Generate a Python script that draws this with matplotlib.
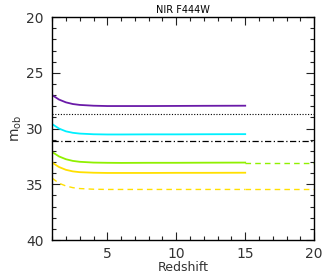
import numpy as np
import matplotlib.pyplot as plt
from matplotlib.ticker import MultipleLocator

# redshift grid
z = [1.0, 1.5, 2.0, 2.5, 3.0, 4.0, 5.0, 6.0, 8.0, 10.0, 12.0, 15.0]
z_ext = [15.0, 20.0]

# magnitudes
m_purple = [27.0, 27.4, 27.65, 27.8, 27.88, 27.95, 27.98, 27.98, 27.98, 27.97, 27.96, 27.95]
m_cyan = [29.6, 30.0, 30.25, 30.38, 30.45, 30.51, 30.53, 30.53, 30.52, 30.52, 30.51, 30.5]
m_green = [32.1, 32.5, 32.75, 32.9, 32.98, 33.05, 33.07, 33.08, 33.07, 33.07, 33.06, 33.05]
m_green_ext = [33.05, 33.05]
m_yellow = [33.05, 33.45, 33.7, 33.84, 33.91, 33.96, 33.98, 33.98, 33.98, 33.97, 33.97, 33.96]
m_yellow_d = [34.45, 34.9, 35.15, 35.3, 35.38, 35.44, 35.46, 35.46, 35.46, 35.46, 35.46, 35.46]
m_yellow_d_ext = [35.46, 35.46]

lim_dotted = 28.7
lim_dashdot = 31.15

fig = plt.figure(figsize=(3.3, 2.75), dpi=100)
ax = fig.add_axes([0.158, 0.127, 0.794, 0.811])

ax.plot(z, m_purple, color='#6a1aa8', lw=1.3)
ax.axhline(lim_dotted, color='black', ls=(0, (1, 1.5)), lw=0.8)
ax.plot(z, m_cyan, color='#00f0ff', lw=1.3)
ax.axhline(lim_dashdot, color='black', ls=(0, (5, 2, 1, 2)), lw=0.9)
ax.plot(z, m_green, color='#90f000', lw=1.3)
ax.plot(z_ext, m_green_ext, color='#90f000', lw=1.0, ls=(0, (4, 3)))
ax.plot(z, m_yellow, color='#ffe000', lw=1.3)
ax.plot(z, m_yellow_d, color='#ffe000', lw=1.0, ls=(0, (4, 3)))
ax.plot(z_ext, m_yellow_d_ext, color='#ffe000', lw=1.0, ls=(0, (4, 3)))

ax.set_xlim(1, 20)
ax.set_ylim(40, 20)
ax.xaxis.set_major_locator(MultipleLocator(5))
ax.xaxis.set_minor_locator(MultipleLocator(1))
ax.yaxis.set_major_locator(MultipleLocator(5))
ax.yaxis.set_minor_locator(MultipleLocator(1))
ax.tick_params(which='both', direction='in', top=True, right=True, labelsize=10,
               colors='#222222', labelcolor='#333333', width=0.8)
ax.tick_params(which='major', length=6, pad=6)
ax.tick_params(axis='x', which='major', pad=5)
ax.tick_params(which='minor', length=3)
for s in ax.spines.values():
    s.set_linewidth(1.0)

ax.set_title('NIR F444W', fontsize=7, pad=3)
ax.set_xlabel('Redshift', fontsize=9, labelpad=0, color='#333333')
ax.set_ylabel('m$_{\\rm ob}$', fontsize=10, labelpad=2, color='#333333')

fig.savefig('out.png', dpi=100)
